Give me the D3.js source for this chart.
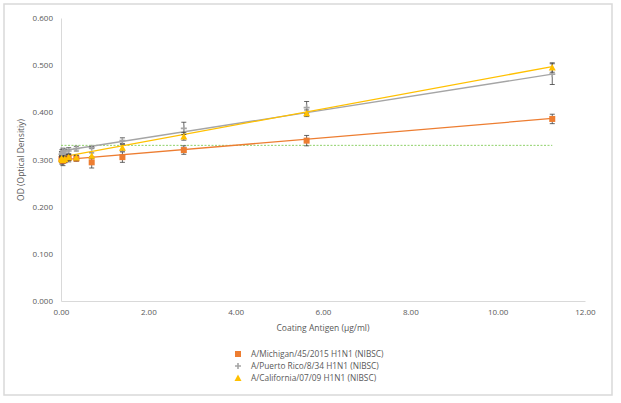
<!DOCTYPE html>
<html><head><meta charset="utf-8">
<script src="https://cdn.jsdelivr.net/npm/d3@7"></script>
<style>
body{margin:0;background:#fff;}
text{font-family:"Open Sans","Liberation Sans",sans-serif;}
</style></head>
<body><svg id="c" width="621" height="403"></svg>
<script>
const conc = [11.25, 5.625, 2.8125, 1.40625, 0.703125, 0.3515625, 0.17578125, 0.087890625, 0.0439453125, 0.02197265625, 0.010986328125];
const michigan = [0.386, 0.340, 0.320, 0.305, 0.294, 0.302, 0.303, 0.300, 0.297, 0.299, 0.301];
const michiganErr = [0.010, 0.011, 0.009, 0.011, 0.012, 0.006, 0.008, 0.007, 0.010, 0.009, 0.008];
const puertoRico = [0.481, 0.410, 0.366, 0.340, 0.325, 0.323, 0.318, 0.316, 0.318, 0.314, 0.311];
const puertoRicoErr = [0.022, 0.013, 0.013, 0.006, 0.002, 0.005, 0.007, 0.006, 0.006, 0.007, 0.006];
const california = [0.495, 0.398, 0.349, 0.325, 0.308, 0.304, 0.305, 0.301, 0.299, 0.300, 0.302];
const californiaErr = [0.010, 0.007, 0.008, 0.007, 0.006, 0.005, 0.007, 0.006, 0.006, 0.006, 0.005];
// linear trendline values read at x = 0 and x = 11.25
const trendStart = [0.299, 0.318, 0.305];
const trendEnd = [0.387, 0.481, 0.497];
const trendX = [0, 11.25];
const cutoff = [0.330, 0.330];
const cutoffX = [0, 11.25];
const seriesNames = ["A/Michigan/45/2015 H1N1 (NIBSC)", "A/Puerto Rico/8/34 H1N1 (NIBSC)", "A/California/07/09 H1N1 (NIBSC)"];
const xTicks = [0, 2, 4, 6, 8, 10, 12];
const yTicks = [0, 0.1, 0.2, 0.3, 0.4, 0.5, 0.6];

const svg = d3.select("#c");
svg.append("rect").attr("x",4).attr("y",4).attr("width",608).attr("height",391)
  .attr("fill","#fff").attr("stroke","#d9d9d9").attr("stroke-width",1.5);

const x = d3.scaleLinear().domain([0,12]).range([61,585]);
const y = d3.scaleLinear().domain([0,0.6]).range([301,18]);

const gx = svg.append("g").attr("transform","translate(0,301)")
  .call(d3.axisBottom(x).tickValues(xTicks).tickFormat(d3.format(".2f")).tickSize(0).tickPadding(8));
const gy = svg.append("g").attr("transform","translate(61,0)")
  .call(d3.axisLeft(y).tickValues(yTicks).tickFormat(d3.format(".3f")).tickSize(0).tickPadding(8));
[gx,gy].forEach(g=>{
  g.select(".domain").attr("stroke","#d9d9d9").attr("stroke-width",1);
  g.selectAll("text").attr("fill","#595959").attr("font-size","8px");
});

svg.append("text").attr("x",323).attr("y",331).attr("text-anchor","middle")
  .attr("font-size","8.5px").attr("fill","#595959").text("Coating Antigen (µg/ml)");
svg.append("text").attr("transform","translate(24,160) rotate(-90)").attr("text-anchor","middle")
  .attr("font-size","8.5px").attr("fill","#595959").text("OD (Optical Densitiy)");

// cutoff dotted line
svg.append("line").attr("x1",x(cutoffX[0])).attr("x2",x(cutoffX[1]))
  .attr("y1",y(cutoff[0])).attr("y2",y(cutoff[1]))
  .attr("stroke","#8fd16a").attr("stroke-width",1).attr("stroke-dasharray","2,1.5");

const series = [
  {vals:michigan, err:michiganErr, color:"#ed7d31", marker:"square"},
  {vals:puertoRico, err:puertoRicoErr, color:"#a5a5a5", marker:"plus"},
  {vals:california, err:californiaErr, color:"#ffc000", marker:"triangle"}
];

function drawMarker(g, type, cx, cy, color){
  if(type==="square") g.append("rect").attr("x",cx-3).attr("y",cy-3).attr("width",6).attr("height",6).attr("fill",color);
  else if(type==="triangle") g.append("path").attr("d",`M${cx},${cy-3.5}L${cx+3.5},${cy+3}L${cx-3.5},${cy+3}Z`).attr("fill",color);
  else g.append("path").attr("d",`M${cx-3},${cy}H${cx+3}M${cx},${cy-3}V${cy+3}`).attr("stroke",color).attr("stroke-width",1.6);
}

// trendlines
series.forEach((s,i)=>{
  svg.append("line").attr("x1",x(trendX[0])).attr("x2",x(trendX[1]))
    .attr("y1",y(trendStart[i])).attr("y2",y(trendEnd[i]))
    .attr("stroke",s.color).attr("stroke-width",1.3);
});

// error bars and markers
series.forEach(s=>{
  const g = svg.append("g");
  conc.forEach((c,i)=>{
    const cx=x(c), y1=y(s.vals[i]-s.err[i]), y2=y(s.vals[i]+s.err[i]);
    g.append("path").attr("d",`M${cx},${y1}V${y2}M${cx-2.5},${y1}H${cx+2.5}M${cx-2.5},${y2}H${cx+2.5}`)
      .attr("stroke","#404040").attr("stroke-width",0.8).attr("fill","none");
  });
  conc.forEach((c,i)=>drawMarker(g, s.marker, x(c), y(s.vals[i]), s.color));
});

// legend
const leg = svg.append("g");
seriesNames.forEach((n,i)=>{
  const ly = 354 + i*12;
  drawMarker(leg, series[i].marker, 238, ly, series[i].color);
  leg.append("text").attr("x",251).attr("y",ly+3).attr("font-size","8.3px").attr("fill","#595959").text(n);
});
</script></body></html>
